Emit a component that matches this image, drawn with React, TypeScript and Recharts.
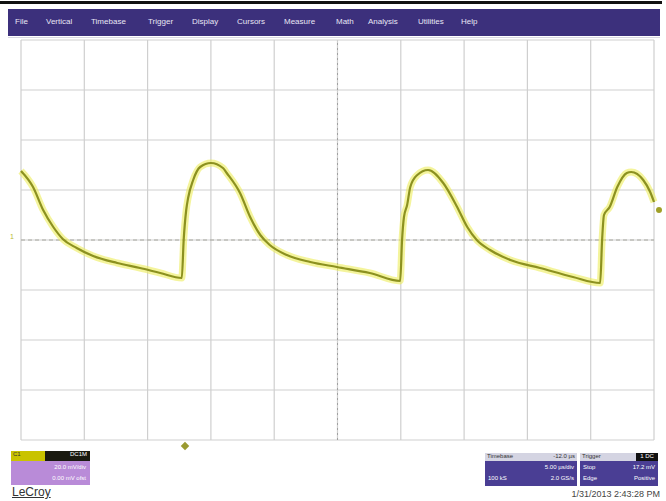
import React from "react";
import {
  LineChart,
  Line,
  XAxis,
  YAxis,
  CartesianGrid,
  ReferenceLine
} from "recharts";

// time in divisions (0..10), voltage in divisions (-4..4)
const TIME_DIV = [
  0.0, 0.19, 0.35, 0.51, 0.66, 0.88, 1.14, 1.52, 1.88, 2.2, 2.54,
  2.57, 2.61, 2.64, 2.72, 2.83, 3.0, 3.19, 3.25, 3.46, 3.62, 3.78, 3.93, 4.2, 4.57, 4.99, 5.51, 5.99,
  6.02, 6.05, 6.1, 6.15, 6.26, 6.43, 6.67, 6.89, 7.05, 7.2, 7.41, 7.73, 8.2, 8.72, 9.15,
  9.18, 9.21, 9.3, 9.42, 9.57, 9.64, 9.83, 9.94, 10.0
];
const VOLT_DIV = [
  1.38, 1.06, 0.6, 0.26, 0.02, -0.16, -0.32, -0.46, -0.56, -0.66, -0.76,
  0.0, 0.6, 0.84, 1.2, 1.46, 1.54, 1.44, 1.34, 0.94, 0.46, 0.1, -0.1, -0.3, -0.44, -0.54, -0.66, -0.82,
  0.0, 0.46, 0.7, 1.06, 1.3, 1.4, 1.14, 0.66, 0.26, 0.0, -0.2, -0.4, -0.56, -0.74, -0.86,
  0.0, 0.5, 0.66, 1.06, 1.34, 1.36, 1.2, 0.96, 0.76
];
const X_TICKS = [0, 1, 2, 3, 4, 5, 6, 7, 8, 9, 10];
const Y_TICKS = [-4, -3, -2, -1, 0, 1, 2, 3, 4];
const MENU = [
  { label: "File", x: 15 },
  { label: "Vertical", x: 46 },
  { label: "Timebase", x: 91 },
  { label: "Trigger", x: 148 },
  { label: "Display", x: 192 },
  { label: "Cursors", x: 237 },
  { label: "Measure", x: 284 },
  { label: "Math", x: 336 },
  { label: "Analysis", x: 368 },
  { label: "Utilities", x: 418 },
  { label: "Help", x: 461 }
];

const data = TIME_DIV.map((t, i) => ({ t, v: VOLT_DIV[i] }));

const abs = (s: React.CSSProperties): React.CSSProperties => ({ position: "absolute", ...s });
const font = '"Liberation Sans", Arial, sans-serif';

export default function App() {
  return (
    <div style={abs({ left: 0, top: 0, width: 666, height: 501, background: "#fff", fontFamily: font, overflow: "hidden" })}>
      <div style={abs({ left: 0, top: 1, width: 662, height: 3, background: "#111" })} />
      <div style={abs({ left: 8, top: 9, width: 652, height: 27, background: "#3c307c" })}>
        {MENU.map((m) => (
          <span key={m.label} style={abs({ left: m.x - 8, top: 8, fontSize: 8, color: "#e8e6f4" })}>
            {m.label}
          </span>
        ))}
      </div>
      <div style={abs({ left: 8, top: 37, width: 652, height: 1, background: "#d8d8e0" })} />

      <div style={abs({ left: 0, top: 0 })}>
        <LineChart width={666} height={501} data={data} margin={{ top: 40, right: 12, bottom: 61, left: 21 }}>
          <XAxis type="number" dataKey="t" domain={[0, 10]} ticks={X_TICKS} hide />
          <YAxis type="number" domain={[-4, 4]} ticks={Y_TICKS} hide />
          <CartesianGrid stroke="#cfcfcf" strokeWidth={1.2} />
          <ReferenceLine x={5} stroke="#a0a0a0" strokeDasharray="2 3" />
          <ReferenceLine y={0} stroke="#a8a8a0" strokeDasharray="4 3" />
          <Line type="monotone" dataKey="v" stroke="#ecec5a" strokeWidth={7} strokeOpacity={0.6} dot={false} isAnimationActive={false} />
          <Line type="monotone" dataKey="v" stroke="#8c9120" strokeWidth={2.2} dot={false} isAnimationActive={false} />
        </LineChart>
      </div>

      <div style={abs({ left: 10, top: 233, fontSize: 7, color: "#b8b830" })}>1</div>
      <div style={abs({ left: 656, top: 207, width: 6, height: 6, borderRadius: 3, background: "#a0a028" })} />
      <div style={abs({ left: 182, top: 443, width: 6, height: 6, background: "#9a9a30", transform: "rotate(45deg)" })} />

      <div style={abs({ left: 11, top: 451, width: 79, height: 34, fontSize: 6, color: "#fff" })}>
        <div style={abs({ left: 0, top: 0, width: 34, height: 10, background: "#c9c300", color: "#333" })}>
          <span style={{ marginLeft: 2 }}>C1</span>
        </div>
        <div style={abs({ left: 34, top: 0, width: 45, height: 10, background: "#1a1a10", textAlign: "right" })}>
          <span style={{ marginRight: 3 }}>DC1M</span>
        </div>
        <div style={abs({ left: 0, top: 10, width: 79, height: 24, background: "#b98bd8", textAlign: "right", lineHeight: "11px" })}>
          <div style={{ marginRight: 4, marginTop: 1 }}>20.0 mV/div</div>
          <div style={{ marginRight: 4 }}>0.00 mV ofst</div>
        </div>
      </div>
      <div style={abs({ left: 12, top: 485, fontSize: 12, color: "#333", textDecoration: "underline" })}>LeCroy</div>

      <div style={abs({ left: 485, top: 453, width: 92, height: 33, fontSize: 6, color: "#fff", background: "#4a3e94" })}>
        <div style={abs({ left: 0, top: 0, width: 92, height: 8, background: "#d4d4e2", color: "#333" })}>
          <span style={abs({ left: 2, top: 0 })}>Timebase</span>
          <span style={abs({ right: 2, top: 0 })}>-12.0 µs</span>
        </div>
        <span style={abs({ right: 3, top: 11 })}>5.00 µs/div</span>
        <span style={abs({ left: 3, top: 22 })}>100 kS</span>
        <span style={abs({ right: 3, top: 22 })}>2.0 GS/s</span>
      </div>
      <div style={abs({ left: 580, top: 453, width: 78, height: 33, fontSize: 6, color: "#fff", background: "#4a3e94" })}>
        <div style={abs({ left: 0, top: 0, width: 78, height: 8, background: "#d4d4e2", color: "#333" })}>
          <span style={abs({ left: 2, top: 0 })}>Trigger</span>
          <span style={abs({ right: 0, top: 0, width: 22, height: 8, background: "#111", color: "#fff", textAlign: "center" })}>1 DC</span>
        </div>
        <span style={abs({ left: 3, top: 11 })}>Stop</span>
        <span style={abs({ right: 3, top: 11 })}>17.2 mV</span>
        <span style={abs({ left: 3, top: 22 })}>Edge</span>
        <span style={abs({ right: 3, top: 22 })}>Positive</span>
      </div>
      <div style={abs({ right: 6, top: 489, fontSize: 9, color: "#444" })}>1/31/2013 2:43:28 PM</div>
    </div>
  );
}
